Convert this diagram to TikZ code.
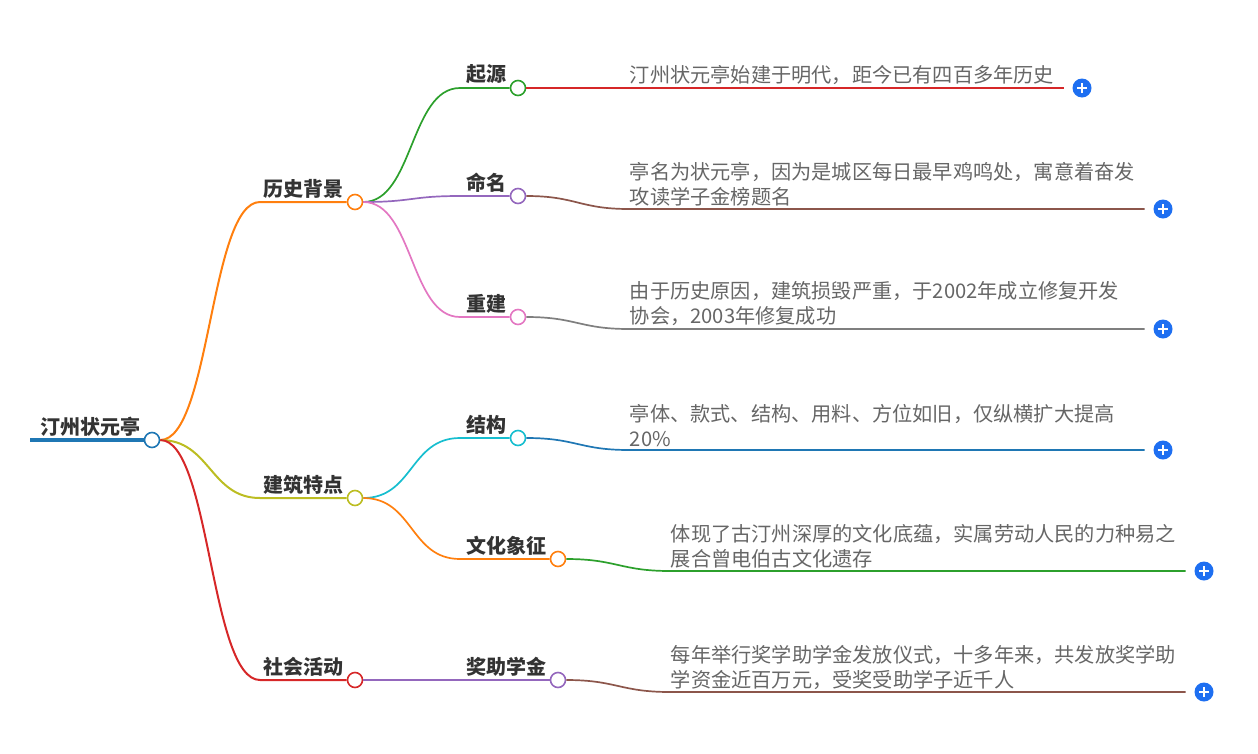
\documentclass[tikz,border=0pt]{standalone}
\usepackage{fontspec}
\setmainfont{Noto Sans CJK SC}
\usetikzlibrary{positioning}

\definecolor{cblue}{HTML}{1F77B4}
\definecolor{corange}{HTML}{FF7F0E}
\definecolor{cgreen}{HTML}{2CA02C}
\definecolor{cred}{HTML}{D62728}
\definecolor{cpurple}{HTML}{9467BD}
\definecolor{cbrown}{HTML}{8C564B}
\definecolor{cpink}{HTML}{E377C2}
\definecolor{cgray}{HTML}{7F7F7F}
\definecolor{colive}{HTML}{BCBD22}
\definecolor{ccyan}{HTML}{17BECF}
\definecolor{plusblue}{HTML}{1E6FF1}
\definecolor{txtdark}{HTML}{333333}
\definecolor{txtgray}{HTML}{666666}

\begin{document}
\begin{tikzpicture}[x=1pt,y=-1pt,line width=1.7pt,
    dot/.style={circle,draw=#1,fill=white,line width=1.6pt,inner sep=0pt,minimum size=15pt},
    topic/.style={font=\fontsize{20}{23}\selectfont\bfseries,text=txtdark,inner sep=1pt,anchor=south east},
    detail/.style={font=\fontsize{20.2}{25}\selectfont,text=txtgray,align=left,anchor=south west,inner xsep=0pt,inner ysep=2pt},
    plus/.style={circle,fill=plusblue,minimum size=19pt,inner sep=0pt,
      path picture={\draw[white,line width=1.8pt]
        (path picture bounding box.center) ++(-5pt,0) -- ++(10pt,0)
        (path picture bounding box.center) ++(0,-5pt) -- ++(0,10pt);}}]
    \useasboundingbox (0,0) rectangle (1258,753);

    % root
    \coordinate (root-in) at (30,440);
    \node[dot=cblue] (root) at (152,440) {};
    \draw[cblue,line width=4pt] (root-in) -- (root.west);
    \node[topic] at ([xshift=-1pt,yshift=2pt]root.west) {汀州状元亭};

    % first level
    \coordinate (lishi-in) at (260,202);
    \coordinate (jianzhu-in) at (260,498);
    \coordinate (shehui-in) at (260,680);
    \node[dot=corange] (lishi) at (355,202) {};
    \node[dot=colive] (jianzhu) at (355,498) {};
    \node[dot=cred] (shehui) at (355,680) {};
    \node[topic] at ([xshift=-1pt,yshift=2pt]lishi.west) {历史背景};
    \node[topic] at ([xshift=-1pt,yshift=2pt]jianzhu.west) {建筑特点};
    \node[topic] at ([xshift=-1pt,yshift=2pt]shehui.west) {社会活动};
    \draw[corange,line width=2pt] (root.east) .. controls +(50,0) and +(-50,0) .. (lishi-in) -- (lishi.west);
    \draw[colive,line width=2pt] (root.east) .. controls +(50,0) and +(-50,0) .. (jianzhu-in) -- (jianzhu.west);
    \draw[cred,line width=2pt] (root.east) .. controls +(50,0) and +(-50,0) .. (shehui-in) -- (shehui.west);

    % second level
    \coordinate (qiyuan-in) at (460,88);
    \coordinate (mingming-in) at (460,196);
    \coordinate (chongjian-in) at (460,317);
    \coordinate (jiegou-in) at (460,438);
    \coordinate (wenhua-in) at (460,559);
    \coordinate (jiangzhu-in) at (460,680);
    \node[dot=cgreen] (qiyuan) at (518,88) {};
    \node[dot=cpurple] (mingming) at (518,196) {};
    \node[dot=cpink] (chongjian) at (518,317) {};
    \node[dot=ccyan] (jiegou) at (518,438) {};
    \node[dot=corange] (wenhua) at (558,559) {};
    \node[dot=cpurple] (jiangzhu) at (558,680) {};
    \node[topic] at ([xshift=-1pt,yshift=2pt]qiyuan.west) {起源};
    \node[topic] at ([xshift=-1pt,yshift=2pt]mingming.west) {命名};
    \node[topic] at ([xshift=-1pt,yshift=2pt]chongjian.west) {重建};
    \node[topic] at ([xshift=-1pt,yshift=2pt]jiegou.west) {结构};
    \node[topic] at ([xshift=-1pt,yshift=2pt]wenhua.west) {文化象征};
    \node[topic] at ([xshift=-1pt,yshift=2pt]jiangzhu.west) {奖助学金};
    \draw[cgreen] (lishi.east) .. controls +(50,0) and +(-50,0) .. (qiyuan-in) -- (qiyuan.west);
    \draw[cpurple] (lishi.east) .. controls +(50,0) and +(-50,0) .. (mingming-in) -- (mingming.west);
    \draw[cpink] (lishi.east) .. controls +(50,0) and +(-50,0) .. (chongjian-in) -- (chongjian.west);
    \draw[ccyan] (jianzhu.east) .. controls +(50,0) and +(-50,0) .. (jiegou-in) -- (jiegou.west);
    \draw[corange] (jianzhu.east) .. controls +(50,0) and +(-50,0) .. (wenhua-in) -- (wenhua.west);
    \draw[cpurple] (shehui.east) .. controls +(50,0) and +(-50,0) .. (jiangzhu-in) -- (jiangzhu.west);

    % details
    \coordinate (qiyuan-t) at (629,88);
    \coordinate (mingming-t) at (629,209);
    \coordinate (chongjian-t) at (629,329);
    \coordinate (jiegou-t) at (629,450);
    \coordinate (wenhua-t) at (670,571);
    \coordinate (jiangzhu-t) at (670,692);
    \node[plus] (qiyuan-p) at (1082,88) {};
    \node[plus] (mingming-p) at (1163,209) {};
    \node[plus] (chongjian-p) at (1163,329) {};
    \node[plus] (jiegou-p) at (1163,450) {};
    \node[plus] (wenhua-p) at (1204,571) {};
    \node[plus] (jiangzhu-p) at (1204,692) {};
    \node[detail] at (qiyuan-t) {汀州状元亭始建于明代，距今已有四百多年历史};
    \node[detail] at (mingming-t) {亭名为状元亭，因为是城区每日最早鸡鸣处，寓意着奋发\\攻读学子金榜题名};
    \node[detail] at (chongjian-t) {由于历史原因，建筑损毁严重，于2002年成立修复开发\\协会，2003年修复成功};
    \node[detail] at (jiegou-t) {亭体、款式、结构、用料、方位如旧，仅纵横扩大提高\\20\%};
    \node[detail] at (wenhua-t) {体现了古汀州深厚的文化底蕴，实属劳动人民的力种易之\\展合曾电伯古文化遗存};
    \node[detail] at (jiangzhu-t) {每年举行奖学助学金发放仪式，十多年来，共发放奖学助\\学资金近百万元，受奖受助学子近千人};
    \draw[cred] (qiyuan.east) -- ([xshift=-8pt]qiyuan-p.west);
    \draw[cbrown] (mingming.east) .. controls +(50,0) and +(-50,0) .. (mingming-t) -- ([xshift=-8pt]mingming-p.west);
    \draw[cgray] (chongjian.east) .. controls +(50,0) and +(-50,0) .. (chongjian-t) -- ([xshift=-8pt]chongjian-p.west);
    \draw[cblue] (jiegou.east) .. controls +(50,0) and +(-50,0) .. (jiegou-t) -- ([xshift=-8pt]jiegou-p.west);
    \draw[cgreen] (wenhua.east) .. controls +(50,0) and +(-50,0) .. (wenhua-t) -- ([xshift=-8pt]wenhua-p.west);
    \draw[cbrown] (jiangzhu.east) .. controls +(50,0) and +(-50,0) .. (jiangzhu-t) -- ([xshift=-8pt]jiangzhu-p.west);
\end{tikzpicture}
\end{document}
